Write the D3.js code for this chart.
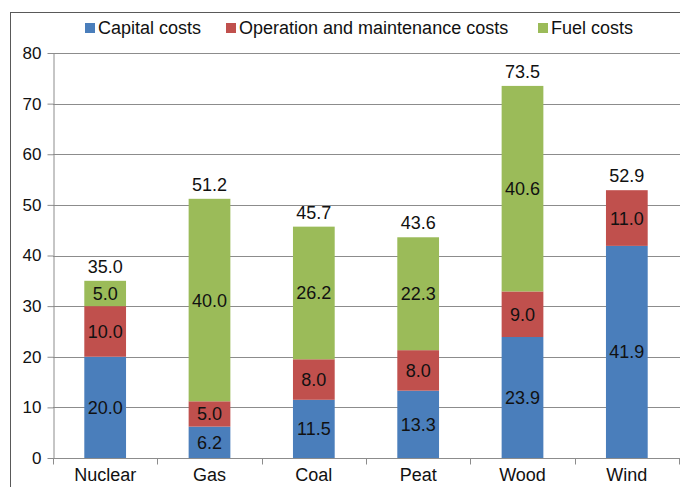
<!DOCTYPE html>
<html>
<head>
<meta charset="utf-8">
<script src="https://cdn.jsdelivr.net/npm/d3@7"></script>
<style>
  body { margin: 0; background: #fff; }
  text { font-family: "Liberation Sans", Arial, sans-serif; fill: #111; }
</style>
</head>
<body>
<div id="chart"></div>
<script>
// Data
var categories = ["Nuclear", "Gas", "Coal", "Peat", "Wood", "Wind"];
var capital = [20.0, 6.2, 11.5, 13.3, 23.9, 41.9];
var operation = [10.0, 5.0, 8.0, 8.0, 9.0, 11.0];
var fuel = [5.0, 40.0, 26.2, 22.3, 40.6, 0];
var totals = [35.0, 51.2, 45.7, 43.6, 73.5, 52.9];
var seriesNames = ["Capital costs", "Operation and maintenance costs", "Fuel costs"];
var yTicks = [0, 10, 20, 30, 40, 50, 60, 70, 80];

var colors = ["#4a7ebb", "#c0504d", "#9bbb59"];

var width = 680, height = 487;

var svg = d3.select("#chart").append("svg")
    .attr("width", width)
    .attr("height", height);

// outer frame (only left and top edges fall inside the picture)
svg.append("rect")
    .attr("x", 10.5).attr("y", 12.5)
    .attr("width", 700).attr("height", 500)
    .attr("fill", "none")
    .attr("stroke", "#595959");

var xScale = d3.scaleBand()
    .domain(categories)
    .range([53, 679])
    .paddingInner(0.6)
    .paddingOuter(0.3);

var yScale = d3.scaleLinear()
    .domain([0, 80])
    .range([458, 53]);

// grid lines
svg.selectAll(".grid")
    .data(yTicks.slice(1))
  .enter().append("line")
    .attr("x1", 53).attr("x2", 680)
    .attr("y1", function(d) { return Math.round(yScale(d)) + 0.5; })
    .attr("y2", function(d) { return Math.round(yScale(d)) + 0.5; })
    .attr("stroke", "#8c8c8c");

// stacked data
var rows = categories.map(function(c, i) {
  return { cat: c, capital: capital[i], operation: operation[i], fuel: fuel[i], total: totals[i] };
});
var stack = d3.stack().keys(["capital", "operation", "fuel"]);
var layers = stack(rows);

var layer = svg.selectAll(".layer")
    .data(layers)
  .enter().append("g")
    .attr("fill", function(d, i) { return colors[i]; });

layer.selectAll("rect")
    .data(function(d) { return d; })
  .enter().append("rect")
    .attr("x", function(d) { return xScale(d.data.cat); })
    .attr("width", xScale.bandwidth())
    .attr("y", function(d) { return yScale(d[1]); })
    .attr("height", function(d) { return yScale(d[0]) - yScale(d[1]); });

// segment labels
layer.selectAll("text")
    .data(function(d) { return d.filter(function(s) { return s[1] - s[0] > 0; }); })
  .enter().append("text")
    .attr("x", function(d) { return xScale(d.data.cat) + xScale.bandwidth() / 2; })
    .attr("y", function(d) { return (yScale(d[0]) + yScale(d[1])) / 2; })
    .attr("dy", "0.36em")
    .attr("text-anchor", "middle")
    .style("font-size", "18px")
    .text(function(d) { return (d[1] - d[0]).toFixed(1); });

// total labels
svg.selectAll(".total")
    .data(rows)
  .enter().append("text")
    .attr("x", function(d) { return xScale(d.cat) + xScale.bandwidth() / 2; })
    .attr("y", function(d) { return yScale(d.total) - 8; })
    .attr("text-anchor", "middle")
    .style("font-size", "18px")
    .text(function(d) { return d.total.toFixed(1); });

// y axis
var yAxis = svg.append("g")
    .attr("transform", "translate(53.5,0)")
    .call(d3.axisLeft(yScale).tickValues(yTicks).tickSize(6).tickSizeOuter(0).tickPadding(6));
yAxis.selectAll("text").style("font-size", "17px").attr("fill", "#111");
yAxis.selectAll("line, path").attr("stroke", "#8c8c8c");

// x axis
var xAxis = svg.append("g")
    .attr("transform", "translate(0,458.5)")
    .call(d3.axisBottom(xScale).tickSize(0).tickPadding(10));
xAxis.select("path").attr("stroke", "#8c8c8c").attr("d", "M53,0H680");
xAxis.selectAll("text").style("font-size", "18px").attr("fill", "#111");
// boundary ticks between categories
var step = xScale.step();
xAxis.selectAll(".btick")
    .data(d3.range(categories.length + 1))
  .enter().append("line")
    .attr("x1", function(i) { return Math.round(53 + i * step) + 0.5; })
    .attr("x2", function(i) { return Math.round(53 + i * step) + 0.5; })
    .attr("y1", 0).attr("y2", 6)
    .attr("stroke", "#8c8c8c");

// legend
var legendX = [85, 226, 538];
var legend = svg.selectAll(".legend")
    .data(seriesNames)
  .enter().append("g")
    .attr("transform", function(d, i) { return "translate(" + legendX[i] + ",23)"; });
legend.append("rect")
    .attr("width", 10).attr("height", 10)
    .attr("fill", function(d, i) { return colors[i]; });
legend.append("text")
    .attr("x", 13).attr("y", 11)
    .style("font-size", "18px")
    .text(function(d) { return d; });
</script>
</body>
</html>
